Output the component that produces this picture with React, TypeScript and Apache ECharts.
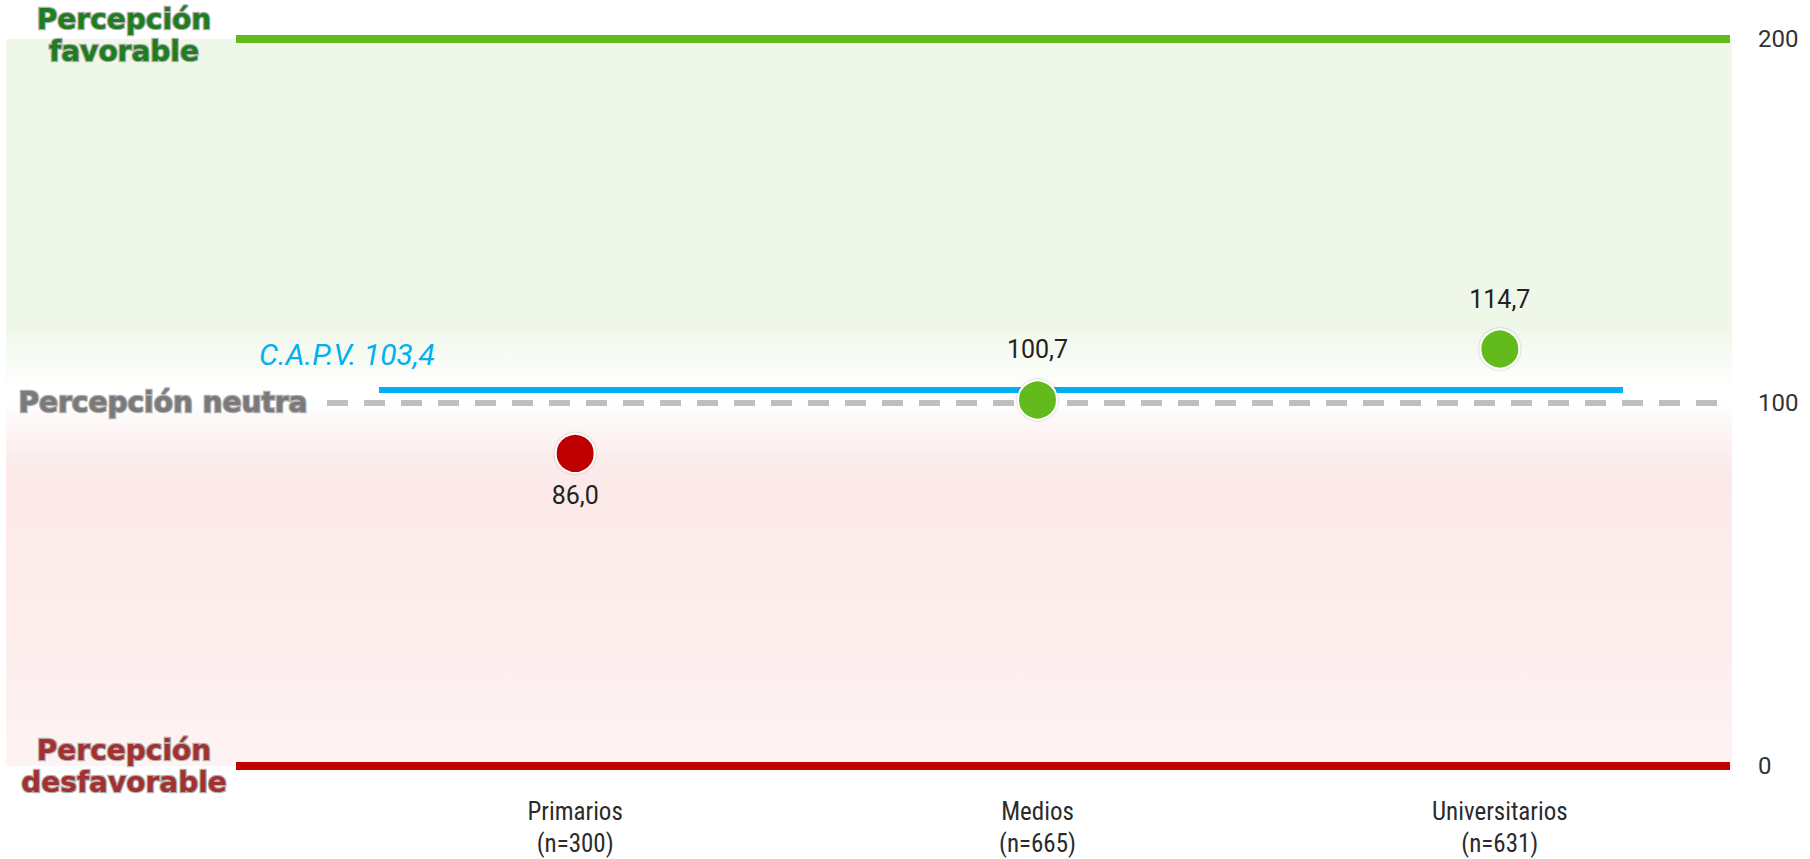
import React, { useEffect, useRef } from "react";
import * as echarts from "echarts";

// Perception index by education level (0 = unfavourable, 100 = neutral, 200 = favourable)
const CATEGORIES = ["Primarios", "Medios", "Universitarios"];
const SAMPLE_SIZES = [300, 665, 631];
const SCORES = [86.0, 100.7, 114.7];
const CAPV_SCORE = 103.4;
const NEUTRAL = 100;
const SCALE_MIN = 0;
const SCALE_MAX = 200;
const SCALE_STEP = 100;

const GREEN = "#64ba1a";
const RED = "#c00000";
const BLUE = "#00b0f0";
const GREY_DASH = "#bfbfbf";

const fmt = (v: number) => v.toFixed(1).replace(".", ",");

const TITLE_FONT = "'DejaVu Sans', sans-serif";
const NUM_FONT = "Roboto, sans-serif";
const CAT_FONT = "'Liberation Sans Narrow', 'Roboto Condensed', 'DejaVu Sans Condensed', sans-serif";

export default function App() {
  const ref = useRef<HTMLDivElement>(null);

  useEffect(() => {
    if (!ref.current) return;
    const chart = echarts.init(ref.current, undefined, { renderer: "svg" });

    const plotTop = 39;
    const plotBottom = 93;

    // heavy side captions with a soft grey halo
    const titleStyle = (text: string, fill: string) => ({
      text,
      fill,
      fontFamily: TITLE_FONT,
      fontWeight: "bold",
      fontSize: 28,
      lineHeight: 32,
      align: "center",
      verticalAlign: "middle",
      stroke: "rgba(150,150,150,0.75)",
      lineWidth: 2.5,
      strokeFirst: true,
    });

    const option: any = {
      animation: false,
      backgroundColor: "#ffffff",
      grid: [
        { left: 6, right: 78, top: plotTop, bottom: plotBottom },
        { left: 344, right: 79, top: plotTop, bottom: plotBottom },
      ],
      xAxis: [
        { gridIndex: 0, type: "value", min: 0, max: 1, show: false },
        {
          gridIndex: 1,
          type: "category",
          data: CATEGORIES.map((c, i) => `${c}\n(n=${SAMPLE_SIZES[i]})`),
          boundaryGap: true,
          axisLine: { show: false },
          axisTick: { show: false },
          axisLabel: {
            margin: 29,
            fontFamily: CAT_FONT,
            fontSize: 25,
            lineHeight: 32,
            color: "#2b2b2b",
          },
        },
      ],
      yAxis: [
        {
          gridIndex: 0,
          type: "value",
          position: "right",
          min: SCALE_MIN,
          max: SCALE_MAX,
          interval: SCALE_STEP,
          axisLine: { show: false },
          axisTick: { show: false },
          splitLine: { show: false },
          axisLabel: {
            margin: 26,
            fontFamily: NUM_FONT,
            fontSize: 24,
            color: "#333333",
          },
        },
        {
          gridIndex: 1,
          type: "value",
          min: SCALE_MIN,
          max: SCALE_MAX,
          interval: SCALE_STEP,
          show: false,
        },
      ],
      graphic: [
        { type: "text", z: 100, x: 124, y: 35, style: titleStyle("Percepción\nfavorable", "#1e7d1e") },
        { type: "text", z: 100, x: 163, y: 402, style: titleStyle("Percepción neutra", "#7a7a7a") },
        { type: "text", z: 100, x: 124, y: 766, style: titleStyle("Percepción\ndesfavorable", "#a43131") },
        {
          type: "text",
          z: 100,
          x: 259,
          y: 354,
          style: {
            text: `C.A.P.V. ${fmt(CAPV_SCORE)}`,
            fill: BLUE,
            fontFamily: NUM_FONT,
            fontStyle: "italic",
            fontSize: 30,
            align: "left",
            verticalAlign: "middle",
          },
        },
      ],
      series: [
        {
          // background bands and reference lines
          type: "scatter",
          xAxisIndex: 0,
          yAxisIndex: 0,
          data: [],
          clip: false,
          silent: true,
          markArea: {
            silent: true,
            data: [
              [
                {
                  yAxis: NEUTRAL,
                  itemStyle: {
                    color: {
                      type: "linear",
                      x: 0,
                      y: 0,
                      x2: 0,
                      y2: 1,
                      colorStops: [
                        { offset: 0, color: "#eff7e8" },
                        { offset: 0.8, color: "#eff7e8" },
                        { offset: 0.82, color: "#f3f9ee" },
                        { offset: 0.9, color: "#f8fcf6" },
                        { offset: 0.96, color: "#ffffff" },
                        { offset: 1, color: "#ffffff" },
                      ],
                    },
                  },
                },
                { yAxis: SCALE_MAX },
              ],
              [
                {
                  yAxis: SCALE_MIN,
                  itemStyle: {
                    color: {
                      type: "linear",
                      x: 0,
                      y: 0,
                      x2: 0,
                      y2: 1,
                      colorStops: [
                        { offset: 0, color: "#ffffff" },
                        { offset: 0.03, color: "#fefafa" },
                        { offset: 0.12, color: "#fdf1f1" },
                        { offset: 0.19, color: "#fce9e9" },
                        { offset: 0.6, color: "#fdeded" },
                        { offset: 1, color: "#fef3f3" },
                      ],
                    },
                  },
                },
                { yAxis: NEUTRAL },
              ],
            ],
          },
          markLine: {
            silent: true,
            symbol: ["none", "none"],
            label: { show: false },
            data: [
              [
                { x: 236, yAxis: SCALE_MAX, lineStyle: { color: GREEN, width: 8, type: "solid" } },
                { x: 1730, yAxis: SCALE_MAX },
              ],
              [
                { x: 236, yAxis: SCALE_MIN, lineStyle: { color: RED, width: 8, type: "solid" } },
                { x: 1730, yAxis: SCALE_MIN },
              ],
              [
                { x: 327, yAxis: NEUTRAL, lineStyle: { color: GREY_DASH, width: 6, type: [21, 16] } },
                { x: 1732, yAxis: NEUTRAL },
              ],
              [
                { x: 379, yAxis: CAPV_SCORE, lineStyle: { color: BLUE, width: 6, type: "solid" } },
                { x: 1623, yAxis: CAPV_SCORE },
              ],
            ],
          },
        },
        {
          type: "scatter",
          xAxisIndex: 1,
          yAxisIndex: 1,
          z: 5,
          symbol: "circle",
          symbolSize: 39,
          data: SCORES.map((v) => ({
            value: v,
            itemStyle: { color: v < NEUTRAL ? RED : GREEN },
            label: {
              position: v < NEUTRAL ? "bottom" : "top",
              distance: v < NEUTRAL ? 9 : 17,
            },
          })),
          itemStyle: {
            opacity: 1,
            borderColor: "#ffffff",
            borderWidth: 2,
            shadowColor: "rgba(0,0,0,0.3)",
            shadowBlur: 2,
          },
          label: {
            show: true,
            formatter: (p: any) => fmt(p.value),
            fontFamily: NUM_FONT,
            fontSize: 25,
            color: "#222222",
          },
        },
      ],
    };

    chart.setOption(option);
    return () => chart.dispose();
  }, []);

  return (
    <div
      ref={ref}
      style={{ position: "fixed", left: 0, top: 0, width: 1810, height: 859, background: "#fff" }}
    />
  );
}
